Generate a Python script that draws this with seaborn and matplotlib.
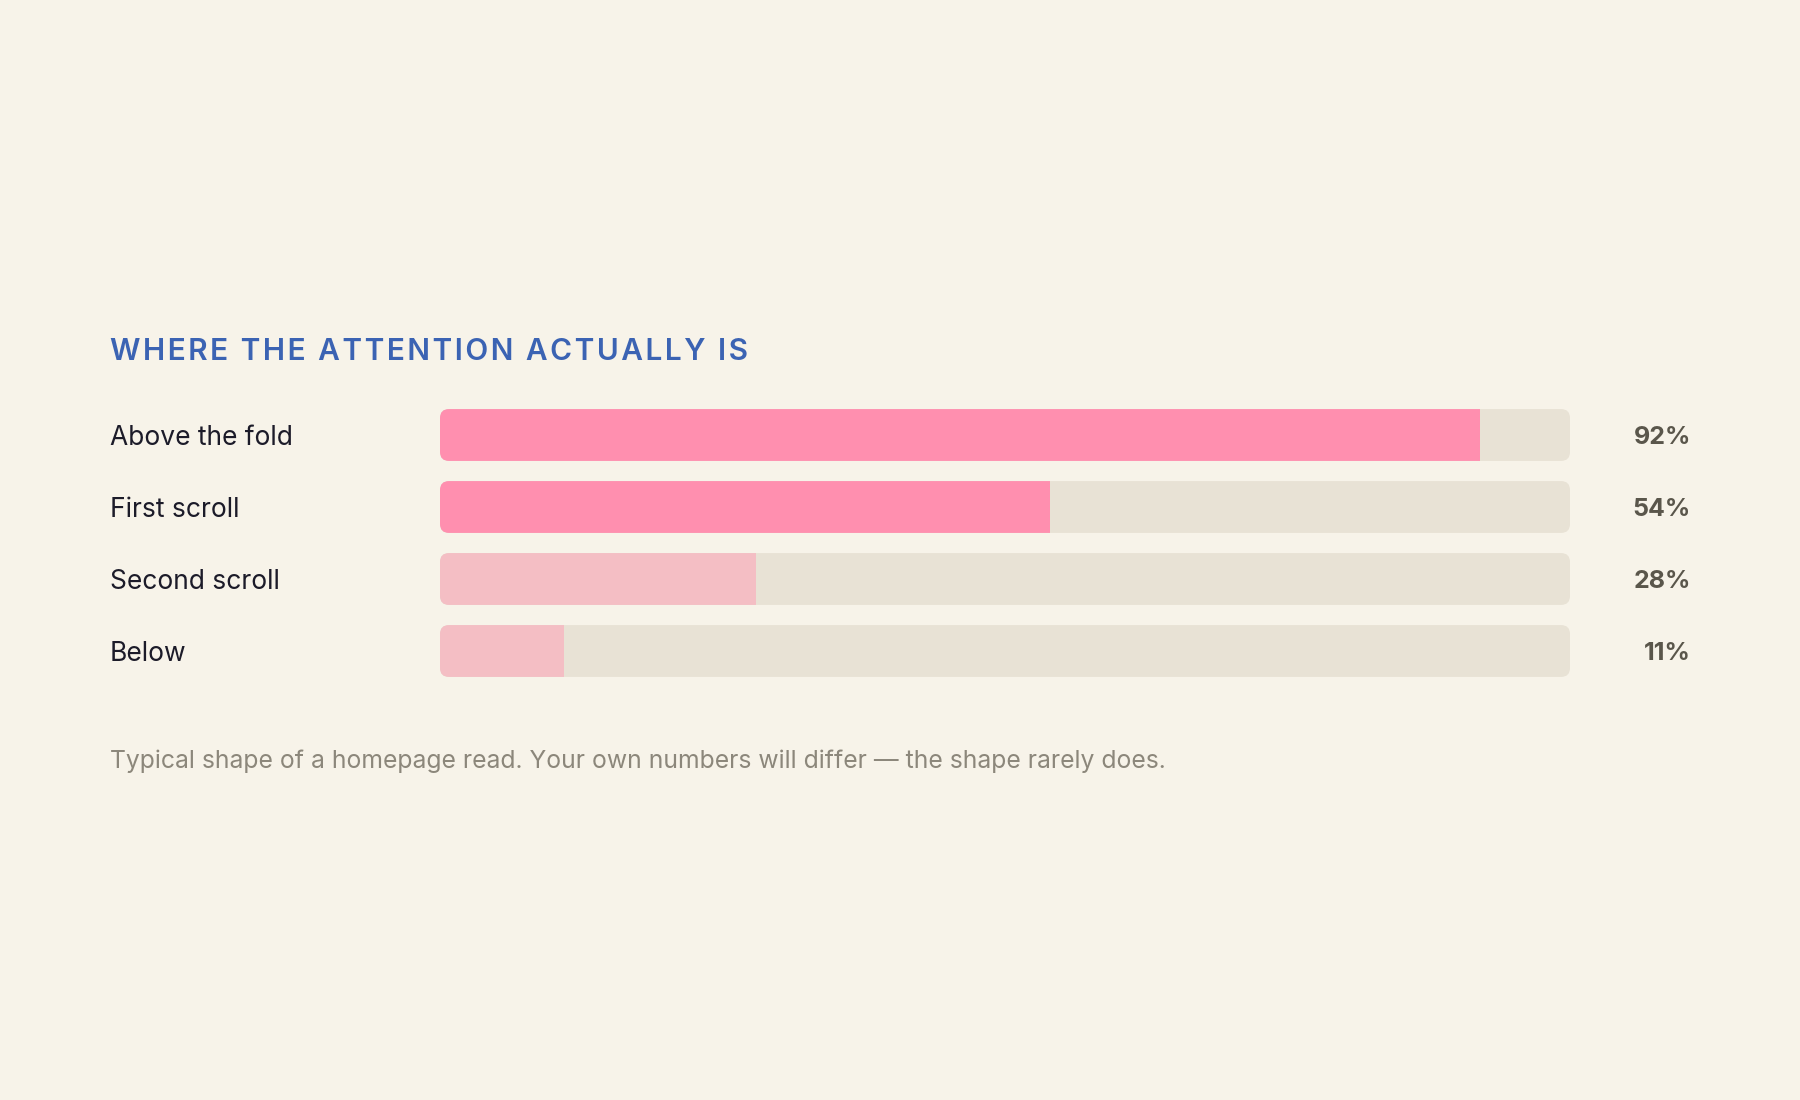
import matplotlib
matplotlib.use("Agg")
import matplotlib.pyplot as plt
import matplotlib.transforms as mtransforms
from matplotlib.patches import FancyBboxPatch
import seaborn as sns
import pandas as pd

# data
categories = ["Above the fold", "First scroll", "Second scroll", "Below"]
values = [92, 54, 28, 11]
track = [100, 100, 100, 100]
value_labels = ["92%", "54%", "28%", "11%"]

title = "WHERE THE ATTENTION ACTUALLY IS"
caption = "Typical shape of a homepage read. Your own numbers will differ \u2014 the shape rarely does."

BG = "#F7F3E9"
TRACK = "#E8E2D5"
PINK = "#FF8FAF"
PINK_LIGHT = "#F4BEC4"
fill_colors = [PINK, PINK, PINK_LIGHT, PINK_LIGHT]

sns.set_theme(style="white")
plt.rcParams["font.family"] = ["Inter", "DejaVu Sans"]

W, H = 1800, 1100
fig = plt.figure(figsize=(18, 11), dpi=100, facecolor=BG)
# axes spans the bar track area: x 440..1570 px, rows 399..687 px
ax = fig.add_axes([440 / W, 1 - 687 / H, 1130 / W, 288 / H])
ax.set_facecolor(BG)

df = pd.DataFrame({"cat": categories, "value": values, "track": track})

sns.barplot(data=df, x="track", y="cat", color=TRACK, width=0.72,
            ax=ax, saturation=1)
sns.barplot(data=df, x="value", y="cat", hue="cat", palette=fill_colors,
            width=0.72, ax=ax, legend=False, saturation=1)

ax.set_xlim(0, 100)
ax.set_ylim(3.5, -0.5)
ax.axis("off")

# rounded tracks; fills clipped to them
r_px = 9
x_per_px = 100 / 1130
y_per_px = 1 / 72
n = len(categories)
track_patches = ax.patches[:n]
fill_patches = ax.patches[n:]
rounded = []
for p in track_patches:
    x, y, w, h = p.get_x(), p.get_y(), p.get_width(), p.get_height()
    rp = FancyBboxPatch((x, y), w, h,
                        boxstyle=f"round,pad=0,rounding_size={r_px * x_per_px}",
                        mutation_aspect=y_per_px / x_per_px,
                        facecolor=TRACK, edgecolor="none", zorder=1)
    ax.add_patch(rp)
    rounded.append((y + h / 2, rp))
    p.set_visible(False)

for p in fill_patches:
    yc = p.get_y() + p.get_height() / 2
    rp = min(rounded, key=lambda t: abs(t[0] - yc))[1]
    p.set_zorder(2)
    p.set_edgecolor("none")
    p.set_clip_path(rp)

# labels and values (nudged a few px down to sit like the reference)
trans = mtransforms.blended_transform_factory(fig.transFigure, ax.transData)
dy = 3 / 72
for i, (cat, lab) in enumerate(zip(categories, value_labels)):
    ax.text(110 / W, i + dy, cat, transform=trans, ha="left", va="center",
            fontsize=19, color="#1C1B29", clip_on=False)
    ax.text(1691 / W, i + dy, lab, transform=trans, ha="right", va="center",
            fontsize=18, fontweight="bold", color="#5A564B", clip_on=False)

spaced_title = "\u200a".join(title)
fig.text(110 / W, 1 - 352 / H, spaced_title, ha="left", va="center",
         fontsize=21.5, fontweight="semibold", color="#3B63B3",
         family=["Inter", "DejaVu Sans"])

fig.text(110 / W, 1 - 761 / H, caption, ha="left", va="center",
         fontsize=17.8, color="#8C877B")

fig.savefig("out.png", dpi=100, facecolor=BG)
